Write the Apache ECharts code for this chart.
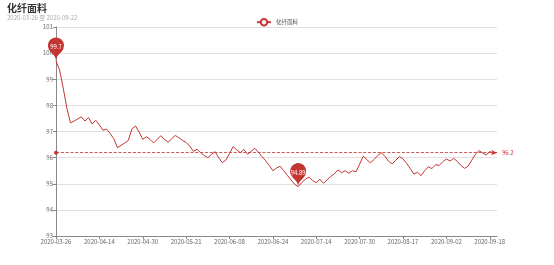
<!DOCTYPE html>
<html>
<head>
<meta charset="utf-8">
<script src="https://cdn.jsdelivr.net/npm/echarts@6/dist/echarts.min.js"></script>
<style>html,body{margin:0;padding:0;background:#fff}#c{width:554px;height:265px}</style>
</head>
<body>
<div id="c"></div>
<script>
var titleText = '化纤面料';
var subText = '2020-03-26 至 2020-09-22';
var seriesName = '化纤面料';
var dates = [
'2020-03-26','2020-03-27','2020-03-30','2020-03-31',
'2020-04-01','2020-04-02','2020-04-03','2020-04-07','2020-04-08','2020-04-09','2020-04-10','2020-04-13','2020-04-14','2020-04-15','2020-04-16','2020-04-17','2020-04-20','2020-04-21','2020-04-22','2020-04-23','2020-04-24','2020-04-27','2020-04-28','2020-04-29','2020-04-30',
'2020-05-06','2020-05-07','2020-05-08','2020-05-11','2020-05-12','2020-05-13','2020-05-14','2020-05-15','2020-05-18','2020-05-19','2020-05-20','2020-05-21','2020-05-22','2020-05-25','2020-05-26','2020-05-27','2020-05-28','2020-05-29',
'2020-06-01','2020-06-02','2020-06-03','2020-06-04','2020-06-05','2020-06-08','2020-06-09','2020-06-10','2020-06-11','2020-06-12','2020-06-15','2020-06-16','2020-06-17','2020-06-18','2020-06-19','2020-06-22','2020-06-23','2020-06-24','2020-06-29','2020-06-30',
'2020-07-01','2020-07-02','2020-07-03','2020-07-06','2020-07-07','2020-07-08','2020-07-09','2020-07-10','2020-07-13','2020-07-14','2020-07-15','2020-07-16','2020-07-17','2020-07-20','2020-07-21','2020-07-22','2020-07-23','2020-07-24','2020-07-27','2020-07-28','2020-07-29','2020-07-30','2020-07-31',
'2020-08-03','2020-08-04','2020-08-05','2020-08-06','2020-08-07','2020-08-10','2020-08-11','2020-08-12','2020-08-13','2020-08-14','2020-08-17','2020-08-18','2020-08-19','2020-08-20','2020-08-21','2020-08-24','2020-08-25','2020-08-26','2020-08-27','2020-08-28','2020-08-31',
'2020-09-01','2020-09-02','2020-09-03','2020-09-04','2020-09-07','2020-09-08','2020-09-09','2020-09-10','2020-09-11','2020-09-14','2020-09-15','2020-09-16','2020-09-17','2020-09-18','2020-09-21','2020-09-22'
];
var values = [
99.7, 99.35, 98.66, 97.9, 97.33, 97.4, 97.48, 97.56, 97.40, 97.53,
97.29, 97.43, 97.25, 97.05, 97.09, 96.92, 96.72, 96.38, 96.47, 96.56,
96.66, 97.10, 97.21, 96.98, 96.70, 96.80, 96.70, 96.56, 96.70, 96.84,
96.70, 96.59, 96.72, 96.85, 96.76, 96.66, 96.58, 96.44, 96.24, 96.32,
96.20, 96.08, 96.00, 96.12, 96.23, 96.00, 95.81, 95.91, 96.15, 96.42,
96.30, 96.19, 96.31, 96.13, 96.24, 96.36, 96.20, 96.04, 95.88, 95.70,
95.50, 95.60, 95.67, 95.50, 95.32, 95.15, 94.98, 94.89, 95.05, 95.17,
95.26, 95.12, 95.04, 95.17, 95.02, 95.15, 95.28, 95.38, 95.53, 95.42,
95.50, 95.40, 95.50, 95.46, 95.75, 96.06, 95.92, 95.80, 95.93, 96.08,
96.19, 96.05, 95.86, 95.76, 95.90, 96.04, 95.95, 95.78, 95.58, 95.37,
95.44, 95.31, 95.50, 95.65, 95.58, 95.73, 95.70, 95.84, 95.95, 95.87,
95.97, 95.86, 95.70, 95.59, 95.67, 95.90, 96.12, 96.27, 96.18, 96.10,
96.23, 96.17, 96.20
];
var yMin = 93, yMax = 101, yStep = 1;

var red = '#c23531';
var chart = echarts.init(document.getElementById('c'));
chart.setOption({
  animation: false,
  textStyle: {fontFamily: '"Noto Sans CJK SC", "Noto Sans", sans-serif'},
  title: {
    text: titleText, subtext: subText, left: 2, top: -2, itemGap: 2,
    textStyle: {fontSize: 10, fontWeight: 'bold', color: '#333'},
    subtextStyle: {fontSize: 6, color: '#aaa'}
  },
  legend: {
    data: [seriesName], top: 13, left: 'center', itemWidth: 14, itemHeight: 8,
    textStyle: {fontSize: 5.5, color: '#555'}
  },
  grid: {left: 56, right: 57, top: 27, bottom: 29},
  xAxis: {
    type: 'category', data: dates, boundaryGap: false,
    axisLine: {show: true, lineStyle: {color: '#888', width: 1}},
    axisTick: {show: true, interval: 11, length: 3, lineStyle: {color: '#888'}},
    axisLabel: {interval: 11, fontSize: 6, color: '#666', margin: 3}
  },
  yAxis: {
    type: 'value', min: yMin, max: yMax, interval: yStep,
    axisLine: {show: true, lineStyle: {color: '#888', width: 1}},
    axisTick: {show: true, length: 3, lineStyle: {color: '#888'}},
    axisLabel: {fontSize: 6, color: '#666', margin: 3},
    splitLine: {show: true, lineStyle: {color: '#e0e0e0', width: 1}}
  },
  series: [{
    name: seriesName, type: 'line', data: values,
    symbol: 'emptyCircle', showSymbol: false,
    itemStyle: {color: red},
    lineStyle: {color: red, width: 1},
    markPoint: {
      symbol: 'pin', symbolSize: 27,
      itemStyle: {color: red},
      label: {fontSize: 6, color: '#fff'},
      data: [{type: 'max', name: '最大值'}, {type: 'min', name: '最小值'}]
    },
    markLine: {
      symbol: ['circle', 'arrow'], symbolSize: [4, 6],
      lineStyle: {color: red, type: 'dashed', width: 0.8},
      label: {fontSize: 6, color: red, position: 'end',
        formatter: function (p) { return (Math.round(p.value * 10) / 10).toString(); }},
      data: [{type: 'average', name: '平均值'}]
    }
  }]
});
</script>
</body>
</html>
